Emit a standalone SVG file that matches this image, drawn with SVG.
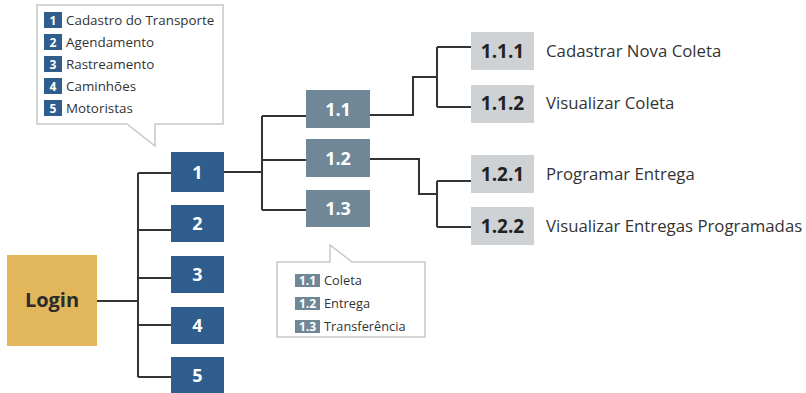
<svg xmlns="http://www.w3.org/2000/svg" width="806" height="393" viewBox="0 0 806 393">
<style>
text{font-family:"Open Sans","Noto Sans",sans-serif}
.conn{fill:none;stroke:#333;stroke-width:2}
.blue{fill:#2e5d8e}
.slate{fill:#6f8797}
.gray{fill:#cfd2d5}
.num{fill:#fff;font-weight:bold;font-size:18px;text-anchor:middle}
.num3{fill:#222;font-weight:bold;font-size:19px;text-anchor:middle}
.lbl{fill:#333;font-size:16.8px}
.callout{fill:#fff;stroke:#c8c8c8;stroke-width:1.5}
.ci{fill:#fff;font-weight:bold;font-size:12px;text-anchor:middle}
.ct{fill:#333;font-size:13.4px}
.ct2{fill:#333;font-size:12.8px}
</style>
<rect width="806" height="393" fill="#fff"/>

<g id="callout-main">
<path class="callout" d="M37,5 H223 V124 H155 V146 L127,124 H37 Z"/>
<rect class="blue" x="44" y="12" width="18" height="16"/><text class="ci" x="53" y="25">1</text>
<text class="ct" x="66" y="25">Cadastro do Transporte</text>
<rect class="blue" x="44" y="34" width="18" height="16"/><text class="ci" x="53" y="47">2</text>
<text class="ct" x="66" y="47">Agendamento</text>
<rect class="blue" x="44" y="56" width="18" height="16"/><text class="ci" x="53" y="69">3</text>
<text class="ct" x="66" y="69">Rastreamento</text>
<rect class="blue" x="44" y="78" width="18" height="16"/><text class="ci" x="53" y="91">4</text>
<text class="ct" x="66" y="91">Caminhões</text>
<rect class="blue" x="44" y="100" width="18" height="16"/><text class="ci" x="53" y="113">5</text>
<text class="ct" x="66" y="113">Motoristas</text>
</g>

<g id="callout-sub">
<path class="callout" d="M277,262 H330 V245 L352,262 H425 V337 H277 Z"/>
<rect class="slate" x="295" y="274" width="25" height="13"/><text class="ci" x="307.5" y="285">1.1</text>
<text class="ct2" x="324" y="285">Coleta</text>
<rect class="slate" x="295" y="297" width="25" height="13"/><text class="ci" x="307.5" y="308">1.2</text>
<text class="ct2" x="324" y="308">Entrega</text>
<rect class="slate" x="295" y="320" width="25" height="13"/><text class="ci" x="307.5" y="331">1.3</text>
<text class="ct2" x="324" y="331">Transferência</text>
</g>

<g id="connectors">
<path class="conn" d="M96,301 H138 M138,173 V377 M138,173 H171 M138,230 H171 M138,278 H171 M138,325 H171 M138,377 H171"/>
<path class="conn" d="M224,172 H262 M262,116 V210 M262,116 H306 M262,160 H306 M262,210 H306"/>
<path class="conn" d="M370,115 H413 V77 H437 M437,47 V107 M437,47 H471 M437,107 H471"/>
<path class="conn" d="M370,159 H419 V194 H437 M437,181 V227 M437,181 H471 M437,227 H471"/>
</g>

<g id="login">
<rect x="7" y="255" width="90" height="91" fill="#e2b65a"/>
<text x="52" y="307" fill="#2b2b2b" font-weight="bold" font-size="20" text-anchor="middle">Login</text>
</g>

<g id="n1"><rect class="blue" x="171" y="152" width="53" height="40"/><text class="num" x="197.5" y="179">1</text></g>
<g id="n2"><rect class="blue" x="171" y="205" width="53" height="37"/><text class="num" x="197.5" y="230">2</text></g>
<g id="n3"><rect class="blue" x="171" y="256" width="53" height="37"/><text class="num" x="197.5" y="281">3</text></g>
<g id="n4"><rect class="blue" x="171" y="307" width="53" height="37"/><text class="num" x="197.5" y="332">4</text></g>
<g id="n5"><rect class="blue" x="171" y="357" width="53" height="40"/><text class="num" x="197.5" y="382">5</text></g>

<g id="n1-1"><rect class="slate" x="306" y="90" width="64" height="38"/><text class="num" x="338" y="116">1.1</text></g>
<g id="n1-2"><rect class="slate" x="306" y="139" width="64" height="38"/><text class="num" x="338" y="165">1.2</text></g>
<g id="n1-3"><rect class="slate" x="306" y="190" width="64" height="37"/><text class="num" x="338" y="215">1.3</text></g>

<g id="n1-1-1"><rect class="gray" x="471" y="32" width="63" height="38"/><text class="num3" x="502.5" y="58">1.1.1</text><text class="lbl" x="546" y="57">Cadastrar Nova Coleta</text></g>
<g id="n1-1-2"><rect class="gray" x="471" y="85" width="63" height="38"/><text class="num3" x="502.5" y="110">1.1.2</text><text class="lbl" x="546" y="109">Visualizar Coleta</text></g>
<g id="n1-2-1"><rect class="gray" x="471" y="155" width="63" height="38"/><text class="num3" x="502.5" y="181">1.2.1</text><text class="lbl" x="546" y="180">Programar Entrega</text></g>
<g id="n1-2-2"><rect class="gray" x="471" y="207" width="63" height="38"/><text class="num3" x="502.5" y="233">1.2.2</text><text class="lbl" x="546" y="232">Visualizar Entregas Programadas</text></g>
</svg>
